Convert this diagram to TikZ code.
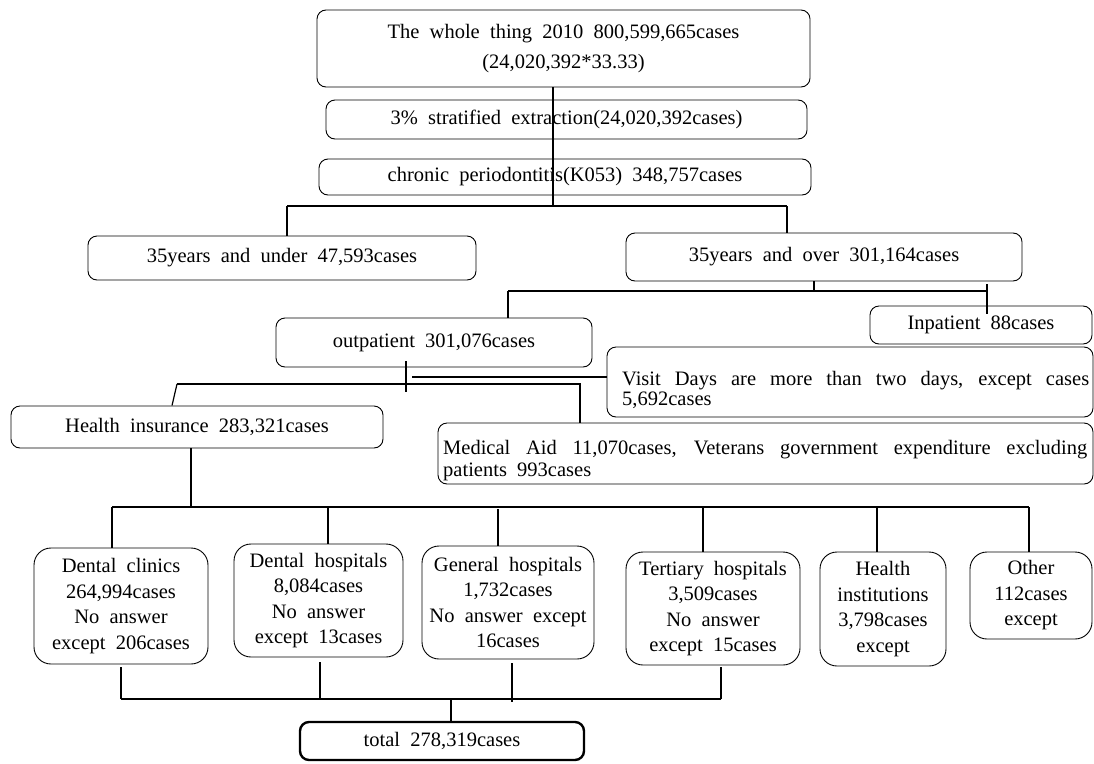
\documentclass[tikz,border=0pt]{standalone}
\usepackage{fontspec}
\setmainfont{Liberation Serif}[WordSpace=2]
\begin{document}
\begin{tikzpicture}[x=1pt,y=-1pt,
  box/.style={draw, rounded corners=9pt, line width=0.9pt, inner sep=0pt, align=center, font=\fontsize{20.5}{25}\selectfont},
  tall/.style={box, rounded corners=17pt, font=\fontsize{20.5}{25.5}\selectfont},
  txt/.style={inner sep=0pt, anchor=north west, align=left},
  link/.style={line width=1.2pt},
  bar/.style={line width=1.8pt}]
\useasboundingbox (0,0) rectangle (1094,763);

% boxes
\node[box, minimum width=493, minimum height=77, font=\fontsize{20.5}{30}\selectfont] (whole) at (563.5,48.5) {The whole thing 2010 800,599,665cases\\(24,020,392*33.33)};
\node[box, minimum width=481, minimum height=39] (strat) at (566.5,119.5) {3\% stratified extraction(24,020,392cases)};
\node[box, minimum width=492, minimum height=36] (chronic) at (565,177) {chronic periodontitis(K053) 348,757cases};
\node[box, minimum width=388, minimum height=44] (under) at (282,258) {35years and under 47,593cases};
\node[box, minimum width=396, minimum height=48] (over) at (824,257) {35years and over 301,164cases};
\node[box, minimum width=222, minimum height=38] (inpat) at (981,325) {Inpatient 88cases};
\node[box, minimum width=316, minimum height=49] (outpat) at (434,342.5) {outpatient 301,076cases};
\node[box, minimum width=486, minimum height=70] (visit) at (850,382) {};
\node[txt, font=\fontsize{20.5}{20}\selectfont] (visitT) at (622,371) {\makebox[467pt][s]{Visit Days are more than two days, except cases}\\5,692cases};
\node[box, minimum width=372, minimum height=42] (health) at (197,427) {Health insurance 283,321cases};
\node[box, minimum width=655, minimum height=61] (medical) at (765.5,453.5) {};
\node[txt, font=\fontsize{20.5}{22}\selectfont] (medT) at (443,440) {\makebox[644pt][s]{Medical Aid 11,070cases, Veterans government expenditure excluding}\\patients 993cases};

\node[tall, minimum width=174, minimum height=116] (clinics) at (121,606) {Dental clinics\\264,994cases\\No answer\\except 206cases};
\node[tall, minimum width=169, minimum height=113] (dhosp) at (318.5,600.5) {Dental hospitals\\8,084cases\\No answer\\except 13cases};
\node[tall, minimum width=172, minimum height=113] (ghosp) at (508,602.5) {General hospitals\\1,732cases\\No answer except\\16cases};
\node[tall, minimum width=174, minimum height=113] (tert) at (713,608.5) {Tertiary hospitals\\3,509cases\\No answer\\except 15cases};
\node[tall, minimum width=126, minimum height=114] (inst) at (883,609) {Health\\institutions\\3,798cases\\except};
\node[tall, minimum width=122, minimum height=87] (other) at (1031,595.5) {Other\\112cases\\except};
\node[box, line width=2.4pt, minimum width=284, minimum height=38] (total) at (442,741) {total 278,319cases};

% junction coordinates
\coordinate (j1) at (553,207);
\coordinate (b1L) at (287,206); \coordinate (b1R) at (787,206);
\coordinate (j2) at (814,291);
\coordinate (b2L) at (508,291); \coordinate (b2R) at (987,291); \coordinate (b2Rt) at (987,284);
\coordinate (j3) at (406,392);
\coordinate (j4) at (412,377);
\coordinate (b3L) at (177,384); \coordinate (b3R) at (580,384); \coordinate (h1) at (172,406);
\coordinate (j5) at (191,508);
\coordinate (b4L) at (112,507); \coordinate (b4R) at (1029,507);
\coordinate (d2) at (328,507); \coordinate (d3) at (498,509);
\coordinate (d4) at (703,507); \coordinate (d5) at (877,507); \coordinate (d6) at (1029,507);
\coordinate (k1) at (121,699); \coordinate (k2) at (320,699);
\coordinate (k3) at (512,702); \coordinate (k4) at (721,699); \coordinate (kT) at (451,699);

% connectors
\draw[link] (whole.south -| j1) -- (j1);
\draw[bar] (b1L) -- (b1R);
\draw[link] (b1L) -- (under.north -| b1L);
\draw[link] (b1R) -- (over.north -| b1R);
\draw[link] (over.south -| j2) -- (j2);
\draw[bar] (b2L) -- (b2R);
\draw[link] (b2L) -- (outpat.north -| b2L);
\draw[link] (b2Rt) -- (inpat.north -| b2Rt) -- ++(0,8);
\draw[link] (outpat.south -| j3) ++(0,-6) -- (j3);
\draw[link] (j4) -- (visit.west |- j4);
\draw[link] (b3L) -- (b3R) -- (medical.north -| b3R);
\draw[link] (b3L) -- (health.north -| h1);
\draw[link] (health.south -| j5) -- (j5);
\draw[link] (b4L) -- (b4R);
\draw[link] (b4L) -- (clinics.north -| b4L);
\draw[link] (d2) -- (dhosp.north -| d2);
\draw[link] (d3) -- (ghosp.north -| d3);
\draw[link] (d4) -- (tert.north -| d4);
\draw[link] (d5) -- (inst.north -| d5);
\draw[link] (d6) -- (other.north -| d6);
\draw[link] (clinics.south -| k1) ++(0,3) -- (k1);
\draw[link] (dhosp.south -| k2) ++(0,5) -- (k2);
\draw[link] (ghosp.south -| k3) ++(0,4) -- (k3);
\draw[link] (tert.south -| k4) ++(0,2) -- (k4);
\draw[link] (k1) -- (k4);
\draw[link] (kT) -- (total.north -| kT);
\end{tikzpicture}
\end{document}
